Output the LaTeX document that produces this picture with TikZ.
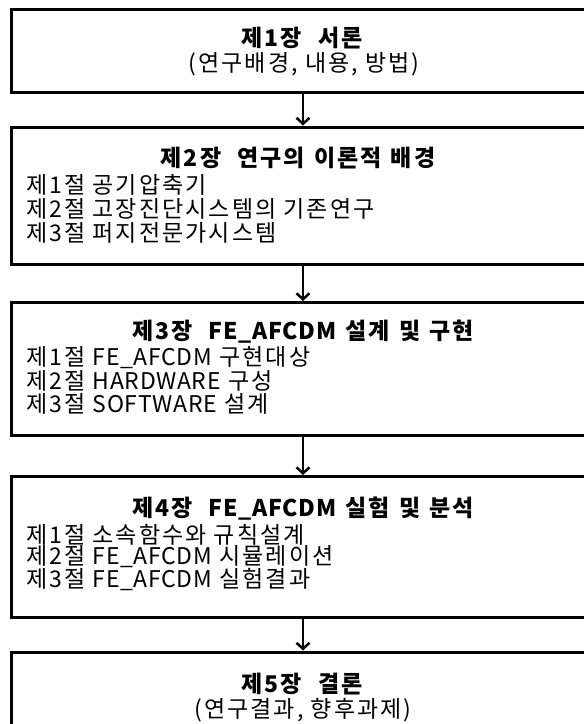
\documentclass[tikz,border=0pt]{standalone}
\usepackage{fontspec}
\setmainfont[LetterSpace=9]{Noto Sans CJK KR}
\newfontfamily\lat[LetterSpace=3]{Noto Sans CJK KR}
\usetikzlibrary{arrows.meta}
\newcommand{\bg}{\hspace{0.7em}}
\newcommand{\sg}{\hspace{0.4em}}
\newcommand{\fe}{{\lat FE\_AFCDM}}
\begin{document}
\begin{tikzpicture}[x=1pt,y=-1pt,
  boxframe/.style={draw=black, line width=3pt, minimum width=574.5pt, inner sep=0pt},
  ttl/.style={font=\fontsize{23}{27}\selectfont\bfseries, anchor=center, inner sep=0pt},
  itm/.style={font=\fontsize{23}{27}\selectfont, anchor=west, inner sep=0pt},
  sub/.style={font=\fontsize{23}{27}\selectfont, anchor=center, inner sep=0pt},
  flow/.style={line width=2.5pt, -{Straight Barb[length=6pt,width=13pt]}}]
\path[use as bounding box] (0,0) rectangle (584,724);
\clip (0,0) rectangle (584,724);
\fill[white] (0,0) rectangle (584,724);

\node[boxframe, minimum height=82.5pt] (b1) at (298.75,50.75) {};
\node[boxframe, minimum height=137pt] (b2) at (298.75,195.5) {};
\node[boxframe, minimum height=133pt] (b3) at (298.75,369) {};
\node[boxframe, minimum height=140.5pt] (b4) at (298.75,546.75) {};
\node[boxframe, minimum height=108pt] (b5) at (298.75,706) {};

\node[ttl] (t1) at (302,38) {제1장\bg 서론};
\node[sub] (s1) at (304,64) {(연구배경, 내용, 방법)};

\node[ttl] (t2) at (298,158) {제2장\bg 연구의\sg 이론적\sg 배경};
\node[itm] (l21) at (26,185) {제1절 공기압축기};
\node[itm] (l22) at (26,209) {제2절 고장진단시스템의 기존연구};
\node[itm] (l23) at (26,233) {제3절 퍼지전문가시스템};

\node[ttl] (t3) at (303,332) {제3장\bg \fe\sg 설계\sg 및\sg 구현};
\node[itm] (l31) at (26,358) {제1절 \fe\ 구현대상};
\node[itm] (l32) at (26,381) {제2절 {\lat HARDWARE} 구성};
\node[itm] (l33) at (26,404) {제3절 {\lat SOFTWARE} 설계};

\node[ttl] (t4) at (303,509) {제4장\bg \fe\sg 실험\sg 및\sg 분석};
\node[itm] (l41) at (26,535) {제1절 소속함수와 규칙설계};
\node[itm] (l42) at (26,557) {제2절 \fe\ 시뮬레이션};
\node[itm] (l43) at (26,579) {제3절 \fe\ 실험결과};

\node[ttl] (t5) at (302,684) {제5장\bg 결론};
\node[sub] (s5) at (303,710) {(연구결과, 향후과제)};

\draw[flow] ([xshift=4.25pt]b1.south) -- ([xshift=4.25pt]b2.north);
\draw[flow] ([xshift=4.25pt]b2.south) -- ([xshift=4.25pt]b3.north);
\draw[flow] ([xshift=4.25pt]b3.south) -- ([xshift=4.25pt]b4.north);
\draw[flow] ([xshift=4.25pt]b4.south) -- ([xshift=4.25pt]b5.north);
\end{tikzpicture}
\end{document}
